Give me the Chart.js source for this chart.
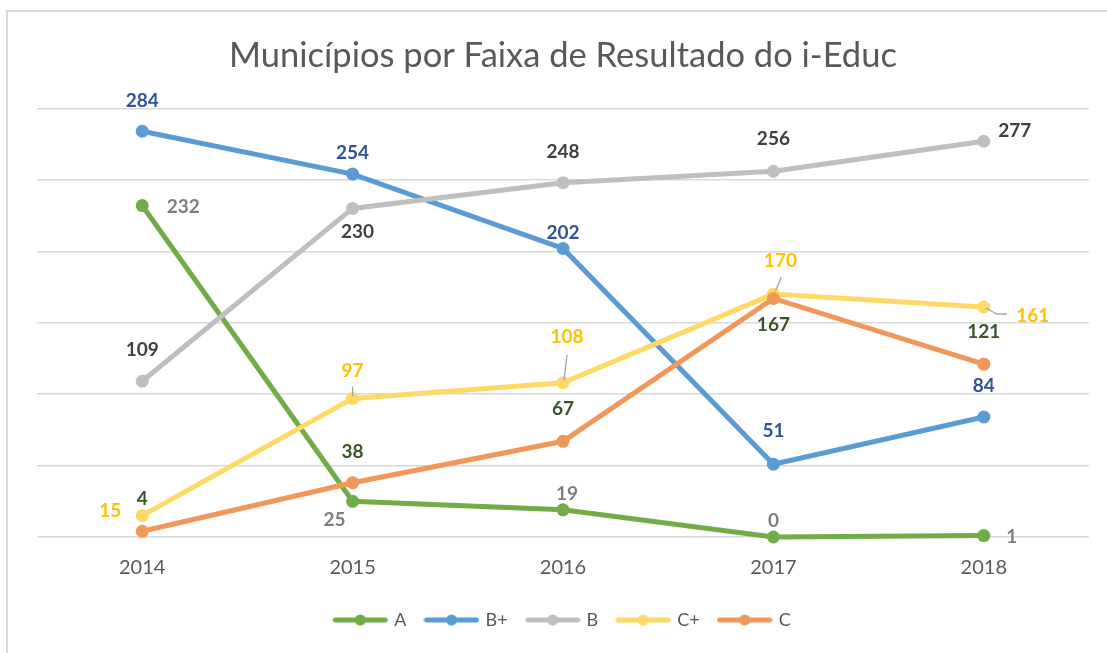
<!DOCTYPE html>
<html>
<head>
<meta charset="utf-8">
<script src="https://cdn.jsdelivr.net/npm/chart.js@4.4.0/dist/chart.umd.min.js"></script>
<style>
  html, body { margin: 0; padding: 0; background: #fff; }
  .chartContainer { position: relative; width: 1107px; height: 653px; }
  .frame { position: absolute; left: 6px; top: 10px; right: 0; bottom: 0;
           border-top: 2px solid #d9d9d9; border-left: 2px solid #d9d9d9; pointer-events: none; }
</style>
</head>
<body>
<div class="chartContainer">
  <canvas id="myChart" width="1107" height="653"></canvas>
  <div class="frame"></div>
</div>
<script>
// ------------------------Data------------------------------------
const years = ['2014', '2015', '2016', '2017', '2018']
const seriesNames = ['A', 'B+', 'B', 'C+', 'C']
const valuesA = [232, 25, 19, 0, 1]
const valuesBPlus = [284, 254, 202, 51, 84]
const valuesB = [109, 230, 248, 256, 277]
const valuesCPlus = [15, 97, 108, 170, 161]
const valuesC = [4, 38, 67, 167, 121]
const yTicks = [0, 50, 100, 150, 200, 250, 300]

// ------------------------Styles----------------------------------
const lineColors = ['#70AD47', '#5B9BD5', '#BFBFBF', '#FFD966', '#F1975A']
const labelColors = ['#7F7F7F', '#2F5597', '#404040', '#FFC000', '#375623']

// label offsets from each point, in px (dx, dy of the text centre)
const labelOffsets = [
  [[41, 1], [-18, 19], [4, -16], [0, -16], [28, 1]],
  [[0, -30], [0, -21], [0, -16], [0, -33], [0, -31]],
  [[0, -31], [5, 23], [0, -31], [0, -32], [31, -10]],
  [[-32, -5], [0, -28], [4, -46], [7, -33], [49, 9]],
  [[0, -32], [0, -31], [0, -32], [0, 26], [0, -32]]
]
// leader lines for the C+ labels (relative to point)
const leaderLines = {
  3: [null, [[0, -12], [0, -2]], [[4, -28], [1, -2]], [[8, -17], [2, -3]], [[2, 1], [13, 7], [23, 7]]]
}

// ------------------------Legend icons----------------------------
const makeIcon = (color) => {
  const c = document.createElement('canvas')
  c.width = 56
  c.height = 14
  const ctx = c.getContext('2d')
  ctx.strokeStyle = color
  ctx.lineWidth = 5
  ctx.lineCap = 'round'
  ctx.beginPath()
  ctx.moveTo(3, 7)
  ctx.lineTo(53, 7)
  ctx.stroke()
  ctx.fillStyle = color
  ctx.beginPath()
  ctx.arc(28, 7, 5.5, 0, Math.PI * 2)
  ctx.fill()
  return c
}
const legendIcons = lineColors.map(makeIcon)

// ------------------------Data labels plugin----------------------
const dataLabels = {
  id: 'dataLabels',
  afterDatasetsDraw(chart) {
    const ctx = chart.ctx
    ctx.save()
    ctx.font = 'bold 19px Lato'
    ctx.textAlign = 'center'
    ctx.textBaseline = 'middle'
    chart.data.datasets.forEach((ds, d) => {
      const meta = chart.getDatasetMeta(d)
      meta.data.forEach((pt, i) => {
        const lines = leaderLines[d] && leaderLines[d][i]
        if (lines) {
          ctx.strokeStyle = '#A6A6A6'
          ctx.lineWidth = 1.3
          ctx.beginPath()
          lines.forEach(([dx, dy], k) => {
            if (k === 0) ctx.moveTo(pt.x + dx, pt.y + dy)
            else ctx.lineTo(pt.x + dx, pt.y + dy)
          })
          ctx.stroke()
        }
        const [dx, dy] = labelOffsets[d][i]
        ctx.fillStyle = labelColors[d]
        ctx.fillText(String(ds.data[i]), pt.x + dx, pt.y + dy)
      })
    })
    ctx.restore()
  }
}

// ------------------------Chart-----------------------------------
const allValues = [valuesA, valuesBPlus, valuesB, valuesCPlus, valuesC]

const chartConfig = {
  type: 'line',
  data: {
    labels: years,
    datasets: allValues.map((vals, d) => ({
      label: seriesNames[d],
      data: vals,
      borderColor: lineColors[d],
      backgroundColor: lineColors[d],
      pointBackgroundColor: lineColors[d],
      pointBorderColor: lineColors[d],
      borderWidth: 5,
      pointRadius: 6.5,
      pointBorderWidth: 0,
      tension: 0,
      clip: false,
      order: allValues.length - d
    }))
  },
  options: {
    responsive: false,
    animation: false,
    layout: { padding: { left: 37, right: 18, top: 0, bottom: 14 } },
    plugins: {
      tooltip: { enabled: false },
      title: {
        display: true,
        text: 'Municípios por Faixa de Resultado do i-Educ',
        color: '#595959',
        font: { family: 'Lato', size: 34.5, weight: 'normal' },
        padding: { top: 35, bottom: 32 }
      },
      legend: {
        position: 'bottom',
        labels: {
          usePointStyle: true,
          pointStyleWidth: 50,
          color: '#595959',
          font: { family: 'Lato', size: 18 },
          padding: 20,
          sort: (a, b) => a.datasetIndex - b.datasetIndex,
          generateLabels: (chart) => {
            const items = Chart.defaults.plugins.legend.labels.generateLabels(chart)
            items.forEach((it) => { it.pointStyle = legendIcons[it.datasetIndex] })
            return items
          }
        }
      }
    },
    scales: {
      x: {
        offset: true,
        grid: { display: false },
        border: { display: false },
        ticks: { color: '#595959', font: { family: 'Lato', size: 20 }, padding: 11 }
      },
      y: {
        min: yTicks[0],
        max: yTicks[yTicks.length - 1],
        afterBuildTicks: (scale) => { scale.ticks = yTicks.map((v) => ({ value: v })) },
        ticks: { display: false },
        grid: { color: '#D9D9D9', lineWidth: 1.5, drawTicks: false },
        border: { display: false }
      }
    }
  },
  plugins: [dataLabels]
}

const chartCanvas = document.getElementById('myChart')
const myChart = new Chart(chartCanvas, chartConfig)
</script>
</body>
</html>
